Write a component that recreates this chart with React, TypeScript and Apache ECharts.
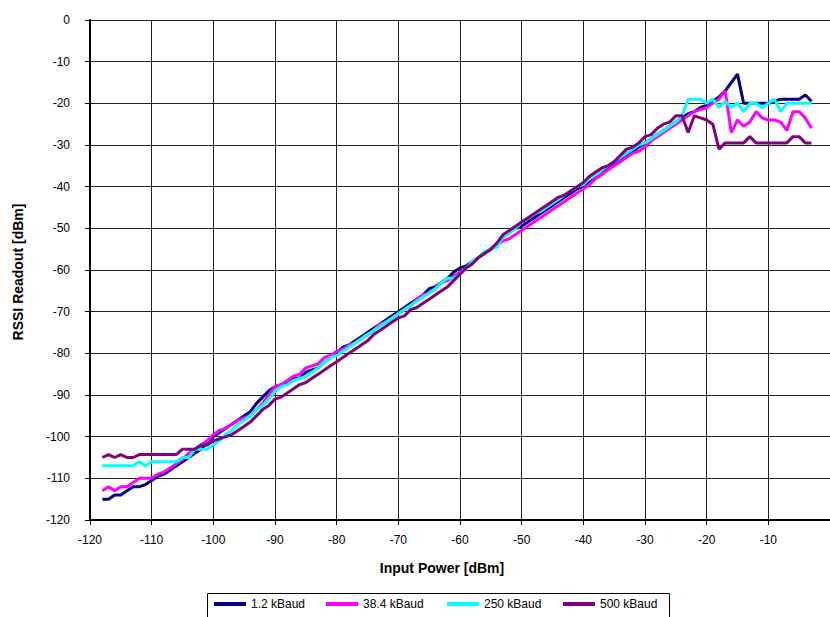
import React, { useEffect, useRef } from "react";
import * as echarts from "echarts";

const inputPower = [
  -118, -117, -116, -115, -114, -113, -112, -111,
  -110, -109, -108, -107, -106, -105, -104, -103, -102, -101,
  -100, -99, -98, -97, -96, -95, -94, -93, -92, -91,
  -90, -89, -88, -87, -86, -85, -84, -83, -82, -81,
  -80, -79, -78, -77, -76, -75, -74, -73, -72, -71,
  -70, -69, -68, -67, -66, -65, -64, -63, -62, -61,
  -60, -59, -58, -57, -56, -55, -54, -53, -52, -51,
  -50, -49, -48, -47, -46, -45, -44, -43, -42, -41,
  -40, -39, -38, -37, -36, -35, -34, -33, -32, -31,
  -30, -29, -28, -27, -26, -25, -24, -23, -22, -21,
  -20, -19, -18, -17, -16, -15, -14, -13, -12, -11,
  -10, -9, -8, -7, -6, -5, -4, -3,
];

const baud1_2k = [
  -115, -115, -114, -114, -113, -112, -112, -111.5,
  -110.5, -109.5, -109, -108, -107, -106, -105, -104, -103, -101.5,
  -100, -99, -98, -97, -96, -95, -94, -92, -90.5, -89,
  -88, -87.5, -87, -86, -86, -84.5, -84, -83.5, -82, -81,
  -80, -78.5, -78, -77, -76, -75, -74, -73, -72, -71,
  -70, -69, -68, -67, -66, -64.5, -64, -63, -62, -60.5,
  -59.5, -59, -58, -57, -56, -55, -54, -52, -51, -50,
  -49.5, -48.5, -47.5, -46.5, -45.5, -44.5, -43.5, -42.5, -41.5, -40.5,
  -40, -39, -38, -37, -35.5, -34.5, -33.5, -32.5, -31.5, -30.5,
  -29.5, -28.5, -27.5, -26.5, -25.5, -24.5, -23.5, -22.5, -22, -21,
  -20.5, -19.5, -18.5, -17, -15, -13, -20, -20, -20, -20,
  -20, -19.5, -19, -19, -19, -19, -18, -19.5,
];

const baud38_4k = [
  -113, -112, -113, -112, -112, -111, -110, -110,
  -110, -109, -108.5, -107.5, -106.5, -105.5, -104, -103, -102, -101,
  -99.5, -98.5, -98, -97, -96, -95.5, -95, -93.5, -92, -90,
  -88, -87.5, -86.5, -85.5, -85, -83.5, -83, -82.5, -81, -80.5,
  -79.5, -79, -78, -77.5, -76.5, -75.5, -74.5, -73, -72.5, -71.5,
  -70.5, -69.5, -68.5, -67, -66, -65.5, -64.5, -63, -62.5, -61.5,
  -60.5, -59.5, -58.5, -57, -56, -55, -54, -53, -52.5, -51.5,
  -50.5, -49.5, -48.5, -47.5, -46.5, -45.5, -44.5, -43.5, -42.5, -41.5,
  -40.5, -39.5, -38, -37, -36, -35, -34, -33, -32, -31.5,
  -30.5, -29, -28, -27, -26, -25, -24, -23, -22, -21.5,
  -21, -20, -19, -17, -27, -24, -25.5, -24.5, -22, -23.5,
  -24, -24, -24.5, -26.5, -22, -22, -23.5, -26,
];

const baud250k = [
  -107, -107, -107, -107, -107, -107, -106, -107,
  -106, -106, -106, -106, -106, -105, -105, -103, -103, -103,
  -102, -101, -99.5, -98.5, -97, -96, -95, -93.5, -92.5, -91,
  -89, -88, -87.5, -86.5, -86, -85.5, -84.5, -83.5, -82, -81,
  -80.5, -79.5, -78.5, -77.5, -76.5, -75.5, -74.5, -73.5, -72.5, -71.5,
  -70.5, -69.5, -68.5, -67.5, -66.5, -65.5, -64.5, -63, -62, -62,
  -61, -59.5, -58, -57, -55.5, -55, -54.5, -52, -51, -50,
  -48.5, -47.5, -46.5, -46, -45, -44, -43, -42, -41, -40,
  -39.5, -38, -37, -36, -35, -34, -33, -32, -31, -30,
  -29.5, -28.5, -27.5, -26.5, -25.5, -24.5, -23, -19, -19, -19,
  -20, -19, -21, -19.5, -21, -20, -22, -20, -20, -21,
  -20, -19, -22, -20, -20, -20, -20, -20,
];

const baud500k = [
  -105, -104.3, -105, -104.3, -105, -105, -104.3, -104.3,
  -104.3, -104.3, -104.3, -104.3, -104.3, -103, -103, -103, -102, -102,
  -101, -100.5, -100, -99.5, -98.5, -97.5, -96.5, -95, -93.5, -92.5,
  -91, -90.5, -89.5, -88.5, -87.5, -87, -86, -85, -84, -83,
  -82, -81, -80, -79, -78, -77, -75.5, -74.5, -73.5, -72.5,
  -71.5, -71, -69.5, -69, -68, -67, -66, -65, -64, -62.5,
  -61, -59.5, -58.5, -57, -56, -55, -53.5, -51.5, -50.5, -49.5,
  -48.5, -47.5, -46.5, -45.5, -44.5, -43.5, -42.5, -42, -41, -40,
  -39, -37.5, -36.5, -35.5, -35, -34, -32.5, -31, -30.5, -29.5,
  -28, -27.5, -26, -25, -24.5, -23, -23, -27, -23, -23.5,
  -24, -25, -31, -29.5, -29.5, -29.5, -29.5, -28, -29.5, -29.5,
  -29.5, -29.5, -29.5, -29.5, -28, -28, -29.5, -29.5,
];

const seriesNames = ["1.2 kBaud", "38.4 kBaud", "250 kBaud", "500 kBaud"];
const seriesValues = [baud1_2k, baud38_4k, baud250k, baud500k];
const seriesColors = ["#000080", "#FF00FF", "#00FFFF", "#800080"];

const xTitle = "Input Power [dBm]";
const yTitle = "RSSI Readout [dBm]";

const FONT = "'Liberation Sans', Arial, sans-serif";

export default function App() {
  const ref = useRef<HTMLDivElement>(null);

  useEffect(() => {
    if (!ref.current) return;
    const chart = echarts.init(ref.current, null, { renderer: "svg" });

    const legendLefts = [214, 326, 447, 563];

    const option: any = {
      animation: false,
      backgroundColor: "#fff",
      textStyle: { fontFamily: FONT },
      grid: { left: 90, top: 20, width: 745, height: 500, containLabel: false },
      xAxis: {
        type: "value",
        min: -120,
        max: 0,
        interval: 10,
        axisLine: { show: true, onZero: false, lineStyle: { color: "#000", width: 2 } },
        axisTick: { show: true, length: 5, lineStyle: { color: "#000", width: 1 } },
        axisLabel: {
          show: true,
          margin: 14,
          fontSize: 12,
          color: "#000",
          fontFamily: FONT,
          showMaxLabel: false,
        },
        splitLine: { show: true, lineStyle: { color: "#222", width: 1 } },
      },
      yAxis: {
        type: "value",
        min: -120,
        max: 0,
        interval: 10,
        axisLine: { show: true, onZero: false, lineStyle: { color: "#000", width: 2 } },
        axisTick: { show: true, length: 5, lineStyle: { color: "#000", width: 1 } },
        axisLabel: {
          show: true,
          margin: 20,
          fontSize: 12,
          color: "#000",
          fontFamily: FONT,
        },
        splitLine: { show: true, lineStyle: { color: "#222", width: 1 } },
      },
      legend: seriesNames.map((name, i) => ({
        data: [name],
        left: legendLefts[i],
        top: 598,
        padding: 0,
        icon: "rect",
        itemWidth: 32,
        itemHeight: 4,
        itemGap: 0,
        selectedMode: false,
        textStyle: { fontSize: 12, color: "#000", fontFamily: FONT },
      })),
      graphic: [
        {
          type: "rect",
          z: -1,
          shape: { x: 207.5, y: 593.5, width: 462, height: 40 },
          style: { fill: "#fff", stroke: "#000", lineWidth: 1 },
        },
        {
          type: "text",
          x: 442,
          y: 568,
          style: {
            text: xTitle,
            fontSize: 14,
            fontWeight: "bold",
            fontFamily: FONT,
            fill: "#000",
            align: "center",
            verticalAlign: "middle",
          },
        },
        {
          type: "text",
          x: 18,
          y: 272,
          rotation: Math.PI / 2,
          style: {
            text: yTitle,
            fontSize: 14,
            fontWeight: "bold",
            fontFamily: FONT,
            fill: "#000",
            align: "center",
            verticalAlign: "middle",
          },
        },
      ],
      series: seriesNames.map((name, i) => ({
        name,
        type: "line",
        symbol: "none",
        color: seriesColors[i],
        lineStyle: { color: seriesColors[i], width: 3 },
        itemStyle: { color: seriesColors[i] },
        data: inputPower.map((x, j) => [x, seriesValues[i][j]]),
      })),
    };

    chart.setOption(option);
    return () => chart.dispose();
  }, []);

  return (
    <div
      ref={ref}
      style={{ position: "absolute", left: 0, top: 0, width: 830, height: 617 }}
    />
  );
}
